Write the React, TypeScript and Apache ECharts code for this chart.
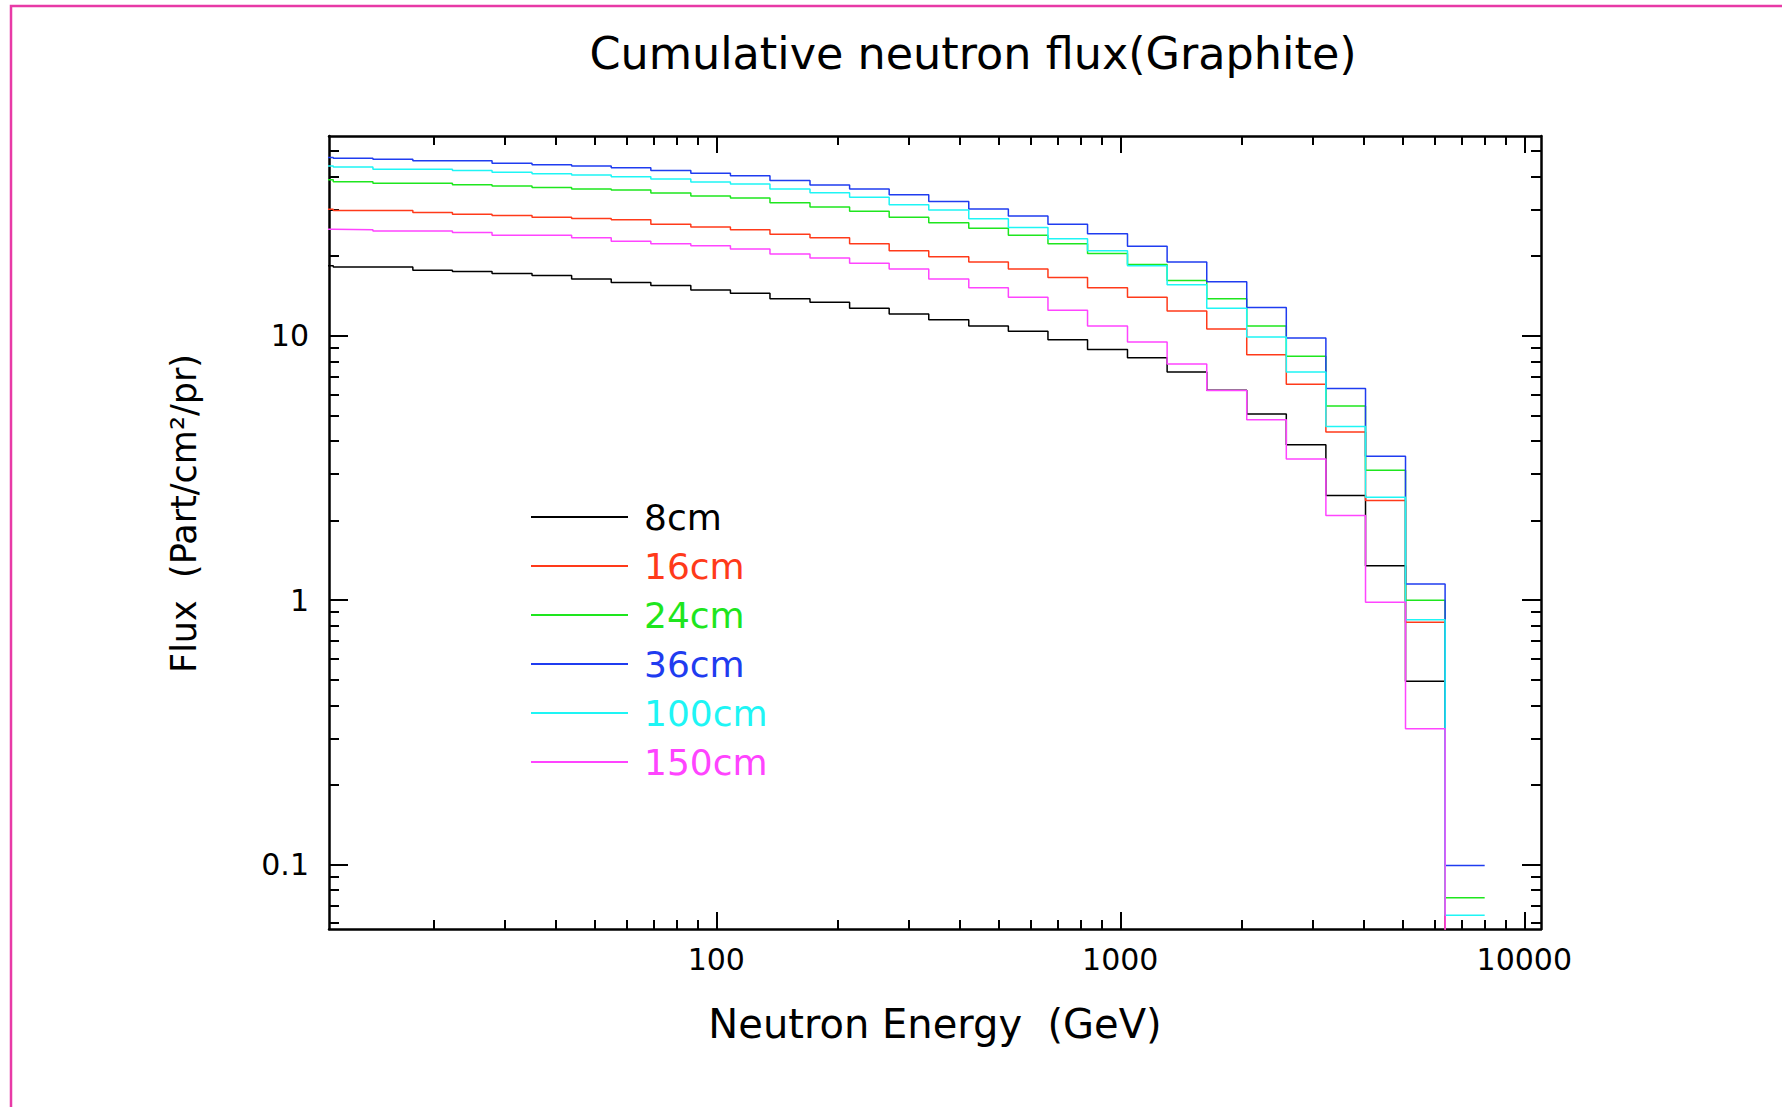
import React, { useEffect, useRef } from "react";
import * as echarts from "echarts";

// ---- Data ----
// Histogram bin edges (GeV); 30 bins
const binEdges = [
  8.99, 11.27, 14.13, 17.74, 22.23, 27.86, 34.99, 43.85, 54.95, 68.87, 86.5,
  108.4, 135.8, 170.6, 213.8, 267.9, 335.7, 421.7, 528.4, 662.2, 829.8, 1042,
  1306, 1637, 2056, 2576, 3228, 4046, 5082, 6368, 7980,
];

// Cumulative flux (Part/cm^2/pr) per bin; 0.01 = below the plotted range
const flux8cm = [
  18.4, 18.2, 18.2, 17.7, 17.5, 17.2, 16.9, 16.4, 15.9, 15.5, 14.9, 14.5, 13.8,
  13.4, 12.7, 12.1, 11.5, 10.9, 10.4, 9.66, 8.88, 8.26, 7.29, 6.23, 5.06, 3.87,
  2.49, 1.35, 0.493, 0.01,
];
const flux16cm = [
  30.1, 29.8, 29.8, 29.3, 28.8, 28.5, 28.1, 27.8, 27.5, 26.4, 25.8, 25.2, 24.2,
  23.5, 22.3, 21.0, 19.9, 19.0, 17.9, 16.6, 15.2, 14.0, 12.4, 10.6, 8.47, 6.56,
  4.33, 2.38, 0.824, 0.01,
];
const flux24cm = [
  38.9, 38.3, 37.8, 37.8, 37.3, 36.9, 36.4, 35.9, 35.6, 34.7, 33.8, 33.2, 31.9,
  30.7, 29.6, 28.1, 26.8, 25.5, 24.0, 22.3, 20.5, 18.6, 16.2, 13.8, 10.9, 8.36,
  5.43, 3.1, 1.0, 0.0748,
];
const flux36cm = [
  47.3, 47.0, 46.6, 45.9, 45.9, 45.0, 44.4, 43.9, 43.2, 42.2, 41.2, 40.3, 38.7,
  37.2, 35.9, 34.2, 32.2, 30.2, 28.4, 26.4, 24.3, 21.8, 19.0, 16.0, 12.8, 9.8,
  6.32, 3.5, 1.15, 0.099,
];
const flux100cm = [
  43.9, 43.5, 42.7, 42.7, 42.2, 41.6, 41.0, 40.6, 40.0, 39.2, 38.2, 37.5, 35.9,
  34.8, 33.4, 31.3, 29.9, 27.7, 25.7, 23.3, 21.0, 18.4, 15.6, 12.7, 9.9, 7.29,
  4.54, 2.45, 0.843, 0.0643,
];
const flux150cm = [
  25.3, 25.2, 24.9, 24.9, 24.6, 24.0, 24.0, 23.5, 22.8, 22.3, 21.9, 21.3, 20.4,
  19.7, 18.8, 17.9, 16.4, 15.2, 14.0, 12.5, 10.9, 9.47, 7.83, 6.21, 4.81, 3.42,
  2.09, 0.982, 0.326, 0.01,
];

const seriesNames = ["8cm", "16cm", "24cm", "36cm", "100cm", "150cm"];
const seriesValues = [flux8cm, flux16cm, flux24cm, flux36cm, flux100cm, flux150cm];
const seriesColors = ["#000000", "#ff3a1a", "#1ee61e", "#1f3cf0", "#1ef5f5", "#ff44ff"];

// Tick positions / labels
const xMajor = [100, 1000, 10000];
const xMinor = [
  20, 30, 40, 50, 60, 70, 80, 90, 200, 300, 400, 500, 600, 700, 800, 900, 2000,
  3000, 4000, 5000, 6000, 7000, 8000, 9000,
];
const yMajor = [0.1, 1, 10];
const yMinor = [
  0.06, 0.07, 0.08, 0.09, 0.2, 0.3, 0.4, 0.5, 0.6, 0.7, 0.8, 0.9, 2, 3, 4, 5, 6,
  7, 8, 9, 20, 30, 40, 50,
];

const X_MIN = 11;
const X_MAX = 11000;
const Y_MIN = 0.057;
const Y_MAX = 57;

const FONT = "DejaVu Sans";
const GRID = { left: 329, top: 136, width: 1212, height: 793 };

function stepPoints(values: number[]) {
  const pts: [number, number][] = values.map((v, i) => [binEdges[i], v]);
  pts.push([binEdges[values.length], values[values.length - 1]]);
  return pts;
}

function xAxisDef(gridIndex: number, position: string, major: boolean, extra: any = {}) {
  return {
    type: "log",
    logBase: 10,
    gridIndex,
    position,
    min: X_MIN,
    max: X_MAX,
    axisLine: { show: major, onZero: false, lineStyle: { color: "#000", width: 2.5 } },
    axisTick: {
      show: true,
      inside: true,
      length: major ? 17 : 9,
      customValues: major ? xMajor : xMinor,
      lineStyle: { color: "#000", width: 2 },
    },
    axisLabel: { show: false },
    splitLine: { show: false },
    minorTick: { show: false },
    ...extra,
  };
}

function yAxisDef(gridIndex: number, position: string, major: boolean, extra: any = {}) {
  return {
    type: "log",
    logBase: 10,
    gridIndex,
    position,
    min: Y_MIN,
    max: Y_MAX,
    axisLine: { show: major, onZero: false, lineStyle: { color: "#000", width: 2.5 } },
    axisTick: {
      show: true,
      inside: true,
      length: major ? 19 : 10,
      customValues: major ? yMajor : yMinor,
      lineStyle: { color: "#000", width: 2 },
    },
    axisLabel: { show: false },
    splitLine: { show: false },
    minorTick: { show: false },
    ...extra,
  };
}

export default function App() {
  const ref = useRef<HTMLDivElement>(null);

  useEffect(() => {
    if (!ref.current) return;
    const chart = echarts.init(ref.current, undefined, { renderer: "svg" });

    const option: any = {
      animation: false,
      backgroundColor: "#ffffff",
      title: {
        text: "Cumulative neutron flux(Graphite)",
        left: 968,
        textAlign: "center",
        top: 26,
        textStyle: { fontFamily: FONT, fontSize: 44.5, fontWeight: "normal", color: "#000" },
      },
      grid: [
        { ...GRID, outerBoundsMode: "none", containLabel: false },
        { ...GRID, outerBoundsMode: "none", containLabel: false },
      ],
      xAxis: [
        xAxisDef(0, "bottom", true, {
          axisLabel: {
            show: true,
            customValues: xMajor,
            margin: 15,
            color: "#000",
            fontFamily: FONT,
            fontSize: 30,
            formatter: (v: number) => String(v),
          },
          name: "Neutron Energy  (GeV)",
          nameLocation: "middle",
          nameGap: 75,
          nameTextStyle: { fontFamily: FONT, fontSize: 40, color: "#000" },
        }),
        xAxisDef(0, "top", true),
        xAxisDef(1, "bottom", false),
        xAxisDef(1, "top", false),
      ],
      yAxis: [
        yAxisDef(0, "left", true, {
          axisLabel: {
            show: true,
            customValues: yMajor,
            margin: 20,
            color: "#000",
            fontFamily: FONT,
            fontSize: 30,
            formatter: (v: number) => String(v),
          },
          name: "Flux  (Part/cm²/pr)",
          nameLocation: "middle",
          nameGap: 128,
          nameTextStyle: {
            fontFamily: FONT,
            fontSize: 35,
            color: "#000",
            padding: [0, 0, 0, 38],
          },
        }),
        yAxisDef(0, "right", true),
        yAxisDef(1, "left", false),
        yAxisDef(1, "right", false),
      ],
      legend: {
        orient: "vertical",
        left: 526,
        top: 494,
        itemWidth: 97,
        itemHeight: 2,
        itemGap: 13,
        icon: "rect",
        selectedMode: false,
        textStyle: {
          fontFamily: FONT,
          fontSize: 36,
          lineHeight: 36,
          padding: [0, 0, 0, 11],
        },
        data: seriesNames.map((n, i) => ({
          name: n,
          textStyle: { color: seriesColors[i] },
        })),
      },
      graphic: [
        {
          type: "polyline",
          silent: true,
          shape: { points: [[1790, 6], [11, 6], [11, 1115]] },
          style: { stroke: "#e83aa6", lineWidth: 2.5, fill: "none" },
        },
      ],
      series: seriesNames.map((n, i) => ({
        type: "line",
        name: n,
        xAxisIndex: 0,
        yAxisIndex: 0,
        step: "end",
        symbol: "none",
        showSymbol: false,
        clip: true,
        silent: true,
        color: seriesColors[i],
        itemStyle: { color: seriesColors[i] },
        lineStyle: { color: seriesColors[i], width: 1.5 },
        data: stepPoints(seriesValues[i]),
      })),
    };

    chart.setOption(option);
    return () => chart.dispose();
  }, []);

  return (
    <div
      ref={ref}
      style={{ position: "absolute", left: 0, top: 0, width: 1782, height: 1107 }}
    />
  );
}
